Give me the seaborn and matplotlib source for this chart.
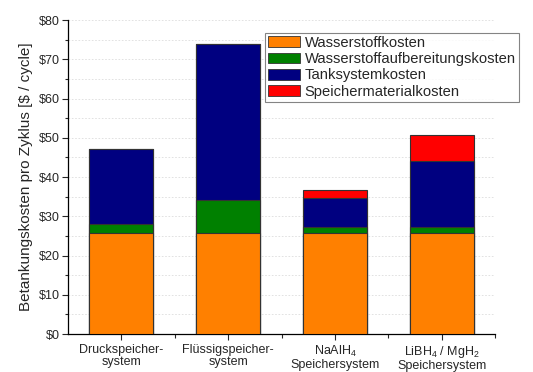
import numpy as np
import pandas as pd
import matplotlib
matplotlib.use("Agg")
import matplotlib.pyplot as plt
import seaborn as sns
from matplotlib.patches import Patch
from matplotlib.ticker import MultipleLocator, FuncFormatter

systems = ["Druckspeicher-\nsystem", "Flüssigspeicher-\nsystem",
           "NaAlH$_\\mathregular{4}$\nSpeichersystem",
           "LiBH$_\\mathregular{4}$ / MgH$_\\mathregular{2}$\nSpeichersystem"]
components = ["Wasserstoffkosten", "Wasserstoffaufbereitungskosten",
              "Tanksystemkosten", "Speichermaterialkosten"]
wasserstoff = [25.8, 25.8, 25.8, 25.8]
aufbereitung = [2.3, 8.3, 1.6, 1.4]
tanksystem = [19.1, 39.8, 7.2, 16.8]
speichermaterial = [0.0, 0.0, 2.0, 6.7]
colors = ["#ff8000", "#008000", "#000080", "#ff0000"]

df = pd.DataFrame({"system": systems,
                   components[0]: wasserstoff,
                   components[1]: aufbereitung,
                   components[2]: tanksystem,
                   components[3]: speichermaterial})

sns.set_style("ticks")
plt.rcParams["font.family"] = ["Liberation Sans", "DejaVu Sans"]
plt.rcParams["mathtext.fontset"] = "custom"
plt.rcParams["mathtext.rm"] = "Liberation Sans"

fig = plt.figure(figsize=(5.33, 3.72), dpi=100)
ax = fig.add_axes([0.1276, 0.102, 0.8014, 0.844])

# stack by cumulative sums, drawn top-down so seaborn bars overlap correctly
cum = df[components].cumsum(axis=1)
for comp, col in reversed(list(zip(components, colors))):
    sns.barplot(x=df["system"], y=cum[comp], color=col, width=0.6,
                edgecolor="#333333", linewidth=0.8, ax=ax, zorder=3,
                saturation=1)

ax.set_xlim(-0.5, 3.5)
ax.set_ylim(0, 80)
ax.yaxis.set_major_locator(MultipleLocator(10))
ax.yaxis.set_minor_locator(MultipleLocator(5))
ax.yaxis.set_major_formatter(FuncFormatter(lambda v, p: f"${v:.0f}"))
ax.set_xticks(range(len(systems)))
ax.set_xticklabels(systems, fontsize=9, linespacing=1.0)
ax.set_xticks(np.arange(0.5, 3.6, 1), minor=True)
ax.tick_params(axis="y", labelsize=9, direction="out", length=4, width=0.8, pad=2)
ax.tick_params(axis="y", which="minor", length=2.5, width=0.8)
ax.tick_params(axis="x", direction="out", length=4, width=0.8, pad=3)
ax.tick_params(axis="x", which="minor", direction="out", length=3, width=0.8)
ax.grid(axis="y", which="both", color="#dddddd", linestyle=(0, (2, 2)),
        linewidth=0.6, zorder=0)
ax.set_axisbelow(True)
ax.set_xlabel("")
ax.set_ylabel("Betankungskosten pro Zyklus [$ / cycle]", fontsize=11, labelpad=4)
sns.despine(ax=ax)
for s in ["left", "bottom"]:
    ax.spines[s].set_color("black")
    ax.spines[s].set_linewidth(0.9)

handles = [Patch(facecolor=c, edgecolor="#333333", linewidth=0.6) for c in colors]
leg = fig.legend(handles, components, loc="upper left",
                 bbox_to_anchor=(265 / 533, 1 - 33 / 372), fontsize=10.6,
                 frameon=True, fancybox=False, edgecolor="#666666",
                 handlelength=2.2, handleheight=0.75, handletextpad=0.3,
                 labelspacing=0.15, borderpad=0.2, borderaxespad=0)
leg.get_frame().set_linewidth(0.8)

fig.savefig("out.png", dpi=100)
